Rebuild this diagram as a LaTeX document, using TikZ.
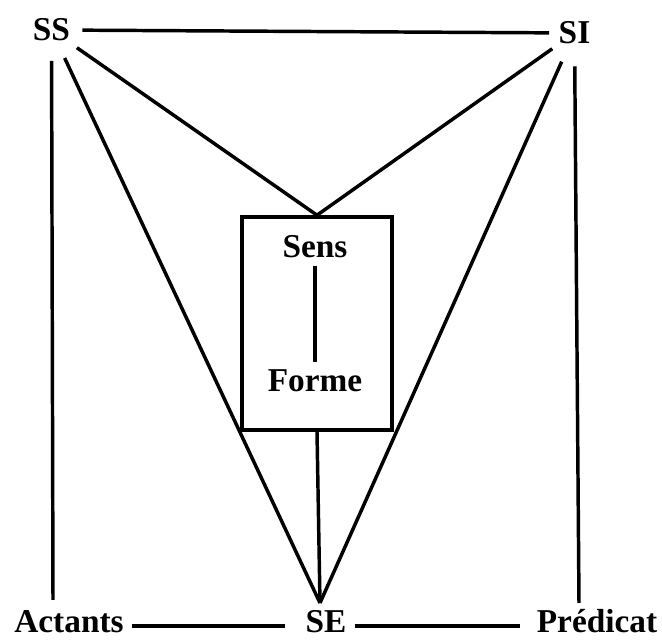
\documentclass[tikz,border=0pt]{standalone}
\usepackage{fontspec}
\setmainfont{Liberation Serif}
\usetikzlibrary{shapes.geometric}
\newcommand{\DiagFont}{\fontsize{25}{30}\selectfont\bfseries}

\begin{document}
\begin{tikzpicture}[
  x=0.75pt, y=-0.75pt,
  font=\DiagFont,
  lbl/.style   = {inner sep=6pt, text height=16.5pt, text depth=0pt},
  hub/.style   = {lbl, circle, inner sep=0pt, minimum size=46pt},
  frame/.style = {draw, line width=2.7pt, inner sep=0pt,
                  minimum width=112.5pt, minimum height=159.75pt},
  link/.style  = {draw, line width=2.6pt},
]
\useasboundingbox (0,0) rectangle (662,641);

% ---------------------------------------------------------------- corners
\node[hub] (ss) at (51.5,30) {SS};
\node[lbl, ellipse, inner sep=0pt, minimum width=37.5pt, minimum height=49.5pt]
  (si) at (574.5,33) {SI};
\node[lbl] (act)  at (69,622)  {Actants};
\node[lbl] (se)   at (326,622) {SE};
\node[lbl] (pred) at (597,622) {Prédicat};

% free ends of the side lines and the meeting point above SE
\coordinate (actTop)  at (53,600);
\coordinate (predTop) at (579,603);
\coordinate (seTop)   at (320,603);

% ---------------------------------------------------------------- central box
\node[frame] (box) at (317,323.5) {};
\node[lbl] (sens)  at (315,247) {Sens};
\node[lbl] (forme) at (315,381) {Forme};
\draw[link] (sens) -- (forme);

% ---------------------------------------------------------------- connectors
\draw[link] (ss) -- (si);
\draw[link] (ss) -- (box.north);
\draw[link] (si) -- (box.north);
\draw[link] (ss) -- (seTop);
\draw[link] (si) -- (seTop);
\draw[link] (box.south) -- (seTop);
\draw[link] (ss) -- (actTop);
\draw[link] (si) -- (predTop);
\draw[link] ([yshift=-3pt]act.east) -- ([xshift=-9pt,yshift=-3pt]se.west);
\draw[link] ([yshift=-3pt]se.east) -- ([xshift=-6.75pt,yshift=-3pt]pred.west);

\end{tikzpicture}
\end{document}
